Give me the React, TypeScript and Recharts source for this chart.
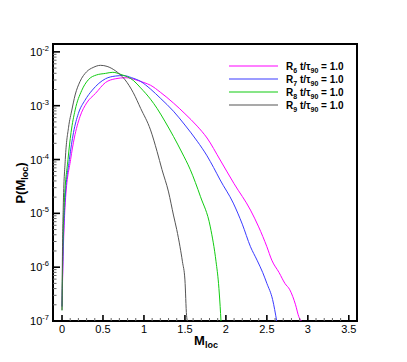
import { LineChart, Line, XAxis, YAxis, ReferenceArea, Legend } from 'recharts'

const FONT = '"Liberation Sans", Arial, Helvetica, sans-serif'

// P(M_loc), one x / y list per run
const r6X = [0, 0.012, 0.04, 0.105, 0.15, 0.22, 0.3, 0.41, 0.53, 0.65, 0.78, 0.9, 1.0, 1.08, 1.2, 1.36, 1.5, 1.65, 1.77, 1.93, 2.1, 2.3, 2.4, 2.5, 2.56, 2.65, 2.72, 2.78, 2.85, 2.89, 2.92]
const r6Y = [1.86e-7, 1.26e-6, 1.58e-5, 1e-4, 2.51e-4, 6.3e-4, 1.12e-3, 1.7e-3, 2.69e-3, 3.16e-3, 3.31e-3, 3.02e-3, 2.69e-3, 2.4e-3, 1.78e-3, 1.12e-3, 7.1e-4, 4.17e-4, 2.51e-4, 9.8e-5, 3.55e-5, 1.15e-5, 5.6e-6, 2.4e-6, 1.35e-6, 7.9e-7, 5.0e-7, 3.8e-7, 2.0e-7, 1.2e-7, 1e-7]

const r7X = [0, 0.01, 0.035, 0.09, 0.14, 0.2, 0.28, 0.37, 0.53, 0.65, 0.75, 0.85, 0.96, 1.08, 1.2, 1.36, 1.5, 1.65, 1.77, 1.85, 1.93, 2.09, 2.2, 2.3, 2.38, 2.45, 2.5, 2.57, 2.62]
const r7Y = [1.86e-7, 1.26e-6, 1.58e-5, 1e-4, 3.16e-4, 7.2e-4, 1.26e-3, 1.95e-3, 3.16e-3, 3.55e-3, 3.63e-3, 3.31e-3, 2.82e-3, 2.04e-3, 1.38e-3, 7.9e-4, 4.37e-4, 2.19e-4, 1.17e-4, 7.1e-5, 4.17e-5, 1.55e-5, 6.3e-6, 2.4e-6, 1.35e-6, 7.9e-7, 5.0e-7, 2.5e-7, 1e-7]

const r8X = [0, 0.008, 0.025, 0.073, 0.11, 0.16, 0.24, 0.32, 0.42, 0.53, 0.62, 0.72, 0.87, 0.96, 1.08, 1.16, 1.26, 1.36, 1.46, 1.565, 1.69, 1.81, 1.88, 1.91, 1.93, 1.94]
const r8Y = [1.58e-7, 1.58e-6, 1.26e-5, 1e-4, 3.16e-4, 8.3e-4, 1.91e-3, 3.02e-3, 3.72e-3, 3.98e-3, 4.17e-3, 3.8e-3, 2.95e-3, 2.14e-3, 1.32e-3, 8.9e-4, 5.0e-4, 2.69e-4, 1.38e-4, 6.5e-5, 2.04e-5, 5.6e-6, 1.26e-6, 5.0e-7, 1.86e-7, 1e-7]

const r9X = [0, 0.005, 0.015, 0.04, 0.08, 0.12, 0.16, 0.22, 0.3, 0.38, 0.47, 0.55, 0.65, 0.77, 0.87, 0.96, 1.08, 1.16, 1.22, 1.3, 1.36, 1.4, 1.44, 1.47, 1.5, 1.52, 1.53]
const r9Y = [1.58e-7, 1.58e-6, 1.26e-5, 1e-4, 3.98e-4, 8.3e-4, 1.58e-3, 2.82e-3, 4.27e-3, 5.13e-3, 5.62e-3, 5.37e-3, 4.47e-3, 3.02e-3, 1.74e-3, 8.9e-4, 3.55e-4, 1.41e-4, 6.5e-5, 2.5e-5, 9.3e-6, 5.0e-6, 2.4e-6, 1.26e-6, 5.8e-7, 1.26e-7, 1e-7]

const xTicks = [0, 0.1, 0.2, 0.3, 0.4, 0.5, 0.6, 0.7, 0.8, 0.9, 1, 1.1, 1.2, 1.3, 1.4, 1.5, 1.6, 1.7, 1.8, 1.9, 2, 2.1, 2.2, 2.3, 2.4, 2.5, 2.6, 2.7, 2.8, 2.9, 3, 3.1, 3.2, 3.3, 3.4, 3.5]
const yTicks = [
  1e-7, 2e-7, 3e-7, 4e-7, 5e-7, 6e-7, 7e-7, 8e-7, 9e-7,
  1e-6, 2e-6, 3e-6, 4e-6, 5e-6, 6e-6, 7e-6, 8e-6, 9e-6,
  1e-5, 2e-5, 3e-5, 4e-5, 5e-5, 6e-5, 7e-5, 8e-5, 9e-5,
  1e-4, 2e-4, 3e-4, 4e-4, 5e-4, 6e-4, 7e-4, 8e-4, 9e-4,
  1e-3, 2e-3, 3e-3, 4e-3, 5e-3, 6e-3, 7e-3, 8e-3, 9e-3,
  1e-2,
]

const series = [
  { name: 'R6', sub: '6', color: '#ff00ff', data: r6X.map((x, i) => ({ x, y: r6Y[i] })) },
  { name: 'R7', sub: '7', color: '#3a3aff', data: r7X.map((x, i) => ({ x, y: r7Y[i] })) },
  { name: 'R8', sub: '8', color: '#11cc11', data: r8X.map((x, i) => ({ x, y: r8Y[i] })) },
  { name: 'R9', sub: '9', color: '#555555', data: r9X.map((x, i) => ({ x, y: r9Y[i] })) },
]

function XTick(props: any) {
  const { x, y, payload } = props
  const v = payload.value
  const major = Math.abs(v * 2 - Math.round(v * 2)) < 1e-6
  return (
    <g>
      <line x1={x} x2={x} y1={y} y2={y - (major ? 6 : 3)} stroke={major ? '#000' : '#666'} strokeWidth={major ? 1.6 : 1} />
      {major && (
        <text x={x} y={y + 12} textAnchor="middle" fontSize={11} fontFamily={FONT} fill="#000">
          {String(v)}
        </text>
      )}
    </g>
  )
}

function YTick(props: any) {
  const { x, y, payload } = props
  const e = Math.log10(payload.value)
  const major = Math.abs(e - Math.round(e)) < 1e-6
  return (
    <g>
      <line x1={x} x2={x + (major ? 7 : 3.5)} y1={y} y2={y} stroke={major ? '#000' : '#666'} strokeWidth={major ? 1.6 : 1} />
      {major && (
        <text x={x - 4} y={y + 4} textAnchor="end" fontSize={11} fontFamily={FONT} fill="#000">
          <tspan>10</tspan>
          <tspan dy={-5} fontSize={7.5}>{String(Math.round(e))}</tspan>
        </text>
      )}
    </g>
  )
}

function LegendBox() {
  return (
    <svg width={130} height={56}>
      {series.map((s, i) => (
        <g key={s.name} transform={`translate(0, ${7 + i * 13})`}>
          <line x1={0} x2={49} y1={0} y2={0} stroke={s.color} strokeWidth={1.2} />
          <text x={57} y={4} fontSize={10} fontWeight="bold" fontFamily={FONT} fill="#000">
            <tspan>R</tspan>
            <tspan dy={2.5} fontSize={7}>{s.sub}</tspan>
            <tspan dy={-2.5}> t/τ</tspan>
            <tspan dy={2.5} fontSize={7}>90</tspan>
            <tspan dy={-2.5}> = 1.0</tspan>
          </text>
        </g>
      ))}
    </svg>
  )
}

export default function App() {
  return (
    <div style={{ position: 'relative', width: 399, height: 354 }}>
      <LineChart width={399} height={354} margin={{ top: 36, right: 50, bottom: 11, left: 5 }}>
        <XAxis
          dataKey="x"
          type="number"
          domain={[-0.11, 3.6]}
          ticks={xTicks}
          interval={0}
          allowDataOverflow
          axisLine={false}
          tickLine={false}
          tickSize={0}
          tickMargin={0}
          height={30}
          tick={<XTick />}
        />
        <YAxis
          type="number"
          scale="log"
          domain={[1e-7, 0.014]}
          ticks={yTicks}
          interval={0}
          allowDataOverflow
          axisLine={false}
          tickLine={false}
          tickSize={0}
          tickMargin={0}
          width={40}
          tick={<YTick />}
        />
        <ReferenceArea x1={-0.11} x2={3.6} y1={1e-7} y2={0.014} fill="none" stroke="#000" strokeWidth={2} />
        {series.map((s) => (
          <Line
            key={s.name}
            data={s.data}
            dataKey="y"
            name={s.name}
            stroke={s.color}
            strokeWidth={1}
            dot={false}
            type="monotoneX"
            isAnimationActive={false}
          />
        ))}
        <Legend
          layout="vertical"
          align="center"
          verticalAlign="middle"
          wrapperStyle={{ position: 'absolute', left: 221, top: 51, width: 130, height: 56 }}
          content={() => <LegendBox />}
        />
      </LineChart>
      <svg width={399} height={354} style={{ position: 'absolute', left: 0, top: 0, pointerEvents: 'none' }}>
        <text
          transform="translate(17, 175) rotate(-90)"
          textAnchor="middle"
          fontSize={13}
          fontWeight="bold"
          fontFamily={FONT}
          fill="#000"
        >
          <tspan>P(M</tspan>
          <tspan dy={3} fontSize={9}>loc</tspan>
          <tspan dy={-3}>)</tspan>
        </text>
        <text x={198} y={337} textAnchor="middle" fontSize={13} fontWeight="bold" fontFamily={FONT} fill="#000">
          <tspan>M</tspan>
          <tspan dy={3} fontSize={9}>loc</tspan>
        </text>
      </svg>
    </div>
  )
}
